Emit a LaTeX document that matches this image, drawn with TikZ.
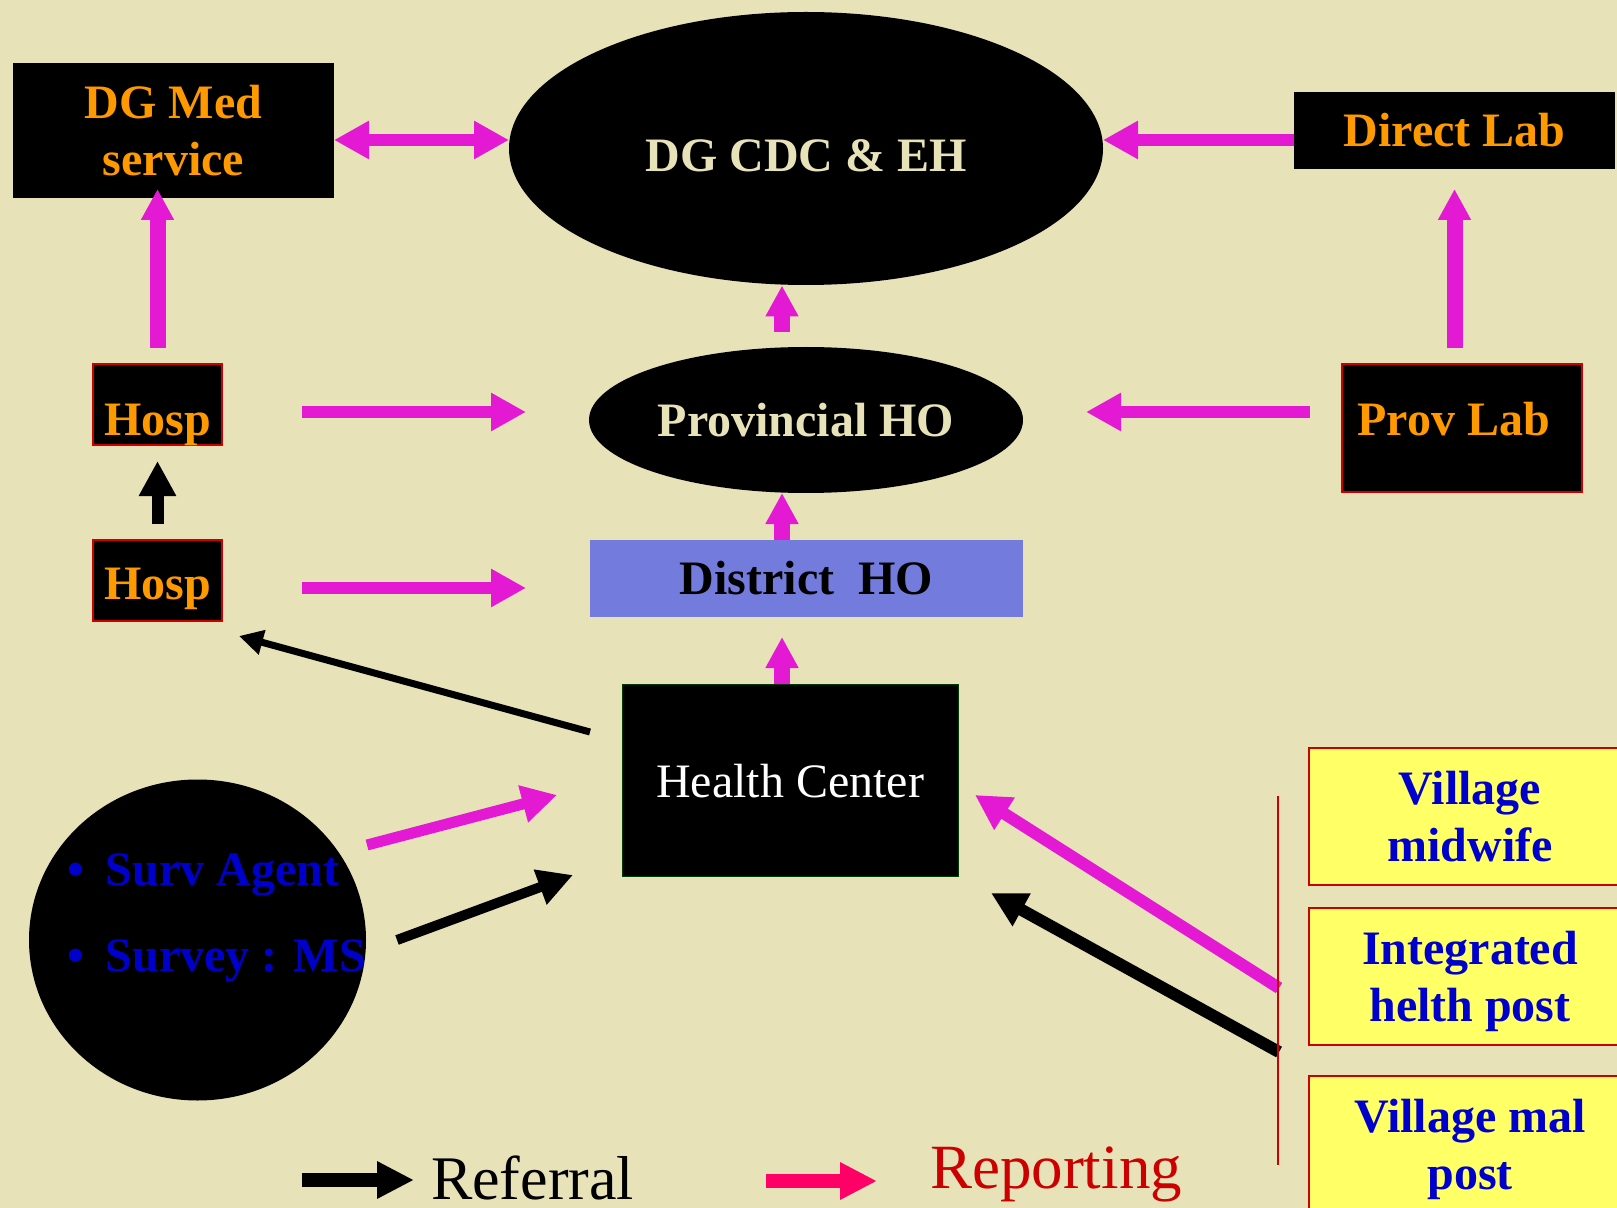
\documentclass[tikz,border=0pt]{standalone}
\usepackage{fontspec}
\setmainfont{Liberation Serif}
\usetikzlibrary{arrows.meta,shapes.geometric,calc}
\definecolor{bg}{RGB}{232,226,185}
\definecolor{mag}{RGB}{227,25,212}
\definecolor{org}{RGB}{255,153,0}
\definecolor{vblue}{RGB}{0,0,204}
\definecolor{dist}{RGB}{115,123,221}
\definecolor{vyel}{RGB}{255,255,102}
\definecolor{bred}{RGB}{204,0,0}
\definecolor{hcgreen}{RGB}{0,60,0}
\definecolor{legpink}{RGB}{255,0,102}
\definecolor{legred}{RGB}{204,0,0}
\begin{document}
\begin{tikzpicture}[x={(0.5pt,0)},y={(0,-0.5pt)},
  every node/.style={inner sep=0pt,outer sep=0pt},
  bigb/.style={font=\bfseries\fontsize{24pt}{28.5pt}\selectfont},
  blkbox/.style={rectangle,fill=black,draw=none},
  redbox/.style={rectangle,fill=black,draw=bred,line width=1pt},
  vilbox/.style={rectangle,fill=vyel,draw=bred,line width=1pt,bigb,text=vblue,align=center,minimum width=161pt,minimum height=68.5pt},
  oval/.style={ellipse,fill=black,draw=none},
  hrep/.style={draw=mag,line width=6pt,-{Triangle[length=17.5pt,width=18pt]}},
  dblrep/.style={draw=mag,line width=6pt,{Triangle[length=17.5pt,width=18pt]}-{Triangle[length=17.5pt,width=18pt]}},
  vrep/.style={draw=mag,line width=8pt,-{Triangle[length=15.5pt,width=15.5pt]}},
  refarr/.style={draw=black,line width=6pt,-{Triangle[length=17.5pt,width=17.5pt]}},
  thinref/.style={draw=black,line width=3.5pt,-{Triangle[length=12pt,width=12pt]}},
  legarr/.style={line width=7pt,-{Triangle[length=18.5pt,width=17.5pt]}}
]
\useasboundingbox (0,0) rectangle (1617,1208);
\fill[bg] (0,0) rectangle (1617,1208);

% nodes
\node[blkbox,minimum width=160.5pt,minimum height=67.5pt,bigb,text=org,align=center] (dgmed) at (173.5,130.5) {DG Med\\service};
\node[oval,minimum width=297pt,minimum height=136.5pt] (dgcdc) at (806,148.5) {};
\node[bigb,text=bg,anchor=base] (dgcdctxt) at (806,172) {DG CDC \& EH};
\node[blkbox,minimum width=160.5pt,minimum height=38.5pt,bigb,text=org] (directlab) at (1454.5,130.5) {Direct Lab};
\node[redbox,minimum width=120pt,minimum height=64pt] (provlab) at (1462,428) {};
\node[bigb,text=org,anchor=base] (provlabtxt) at (1453.5,436) {Prov Lab};
\node[oval,minimum width=217pt,minimum height=73pt,bigb,text=bg] (provho) at (806,420) {Provincial HO};
\node[rectangle,fill=dist,minimum width=216.5pt,minimum height=38.5pt,bigb,text=black] (district) at (806.5,578.5) {District~ HO};
\node[redbox,minimum width=64.5pt,minimum height=40.5pt] (hosp1) at (157.5,404.5) {};
\node[bigb,text=org,anchor=base] (hosp1txt) at (157.5,436) {Hosp};
\node[redbox,minimum width=64.5pt,minimum height=40.5pt] (hosp2) at (157.5,580.5) {};
\node[bigb,text=org,anchor=base] (hosp2txt) at (157.5,599) {Hosp};
\node[rectangle,fill=black,draw=hcgreen,line width=0.5pt,minimum width=168pt,minimum height=96pt] (hc) at (790,780) {};
\node[anchor=base,text=white,font=\fontsize{24pt}{28pt}\selectfont] (hctxt) at (790,797) {Health Center};
\node[ellipse,fill=black,minimum width=168.5pt,minimum height=160.5pt] (surv) at (197.5,940) {};
\node[bigb,text=vblue,anchor=base west] (surv1) at (67,885) {\makebox[19.5pt][l]{•}Surv Agent};
\node[bigb,text=vblue,anchor=base west] (surv2) at (67,971) {\makebox[19.5pt][l]{•}Survey : MS};
\node[vilbox] (vm1) at (1470,816.5) {Village\\midwife};
\node[vilbox] (vm2) at (1470,976.5) {Integrated\\\raisebox{0pt}[\height][0pt]{helth post}};
\node[vilbox] (vm3) at (1470,1144) {Village mal\\\raisebox{0pt}[\height][0pt]{post}};

% connectors
\draw[dblrep] (dgmed.east |- 0,140) -- (dgcdc.west |- 0,140);
\draw[hrep] (directlab.west |- 0,140) -- (dgcdc.east |- 0,140);
\draw[vrep] ($(hosp1.north)+(0,-16)$) -- ($(hosp1.north |- dgmed.south)+(0,-9)$);
\draw[vrep] ($(directlab.south |- provlab.north)+(0,-16)$) -- ($(directlab.south)+(0,20)$);
\draw[hrep] ($(provlab.west)+(-32,-16)$) -- ($(provho.east |- 0,412)+(63,0)$);
\draw[hrep] ($(hosp1.east)+(80,7.5)$) -- ($(provho.west |- 0,412)+(-63,0)$);
\draw[hrep] ($(hosp2.east)+(80,7.5)$) -- ($(district.west |- 0,588)+(-64,0)$);
\draw[refarr] ($(hosp2.north)+(0,-16)$) -- ($(hosp1.south)+(0,16)$);
\draw[vrep] ($(provho.north)+(-24,-15)$) -- ($(dgcdc.south)+(-24,0.5)$);
\draw[vrep] ($(district.north)+(-24.5,0)$) -- ($(provho.south)+(-24,0)$);
\draw[vrep] ($(hc.north)+(-8,0)$) -- ($(district.south)+(-24.5,20)$);
\draw[thinref] ($(hc.west)+(-32,-48)$) -- ($(hosp2.south east)+(17,15)$);
\draw[hrep,line width=5.5pt] ($(surv.center)+(169.5,-95)$) -- ($(hc.west)+(-65,15)$);
\draw[refarr,line width=5pt] ($(surv.east)+(31,0)$) -- ($(hc.south west)+(-49,-1)$);
\draw[hrep] ($(vm2.west)+(-30,11.5)$) -- ($(hc.east)+(17,15)$);
\draw[refarr] ($(vm2.west)+(-30,75.5)$) -- ($(hc.south east)+(33,17)$);
\draw[bred,line width=1pt] ($(vm1.west)+(-31,-20.5)$) -- ($(vm3.west)+(-31,21)$);

% legend
\node[anchor=base west,font=\fontsize{31pt}{37pt}\selectfont,text=black] (referral) at (431,1199) {Referral};
\node[anchor=base west,font=\fontsize{31.5pt}{37pt}\selectfont,text=legred] (reporting) at (930,1188) {Reporting};
\draw[legarr,draw=black] ($(referral.base west)+(-129,-19)$) -- ($(referral.base west)+(-17,-19)$);
\draw[legarr,draw=legpink] ($(reporting.base west)+(-164,-7)$) -- ($(reporting.base west)+(-53,-7)$);
\end{tikzpicture}
\end{document}
